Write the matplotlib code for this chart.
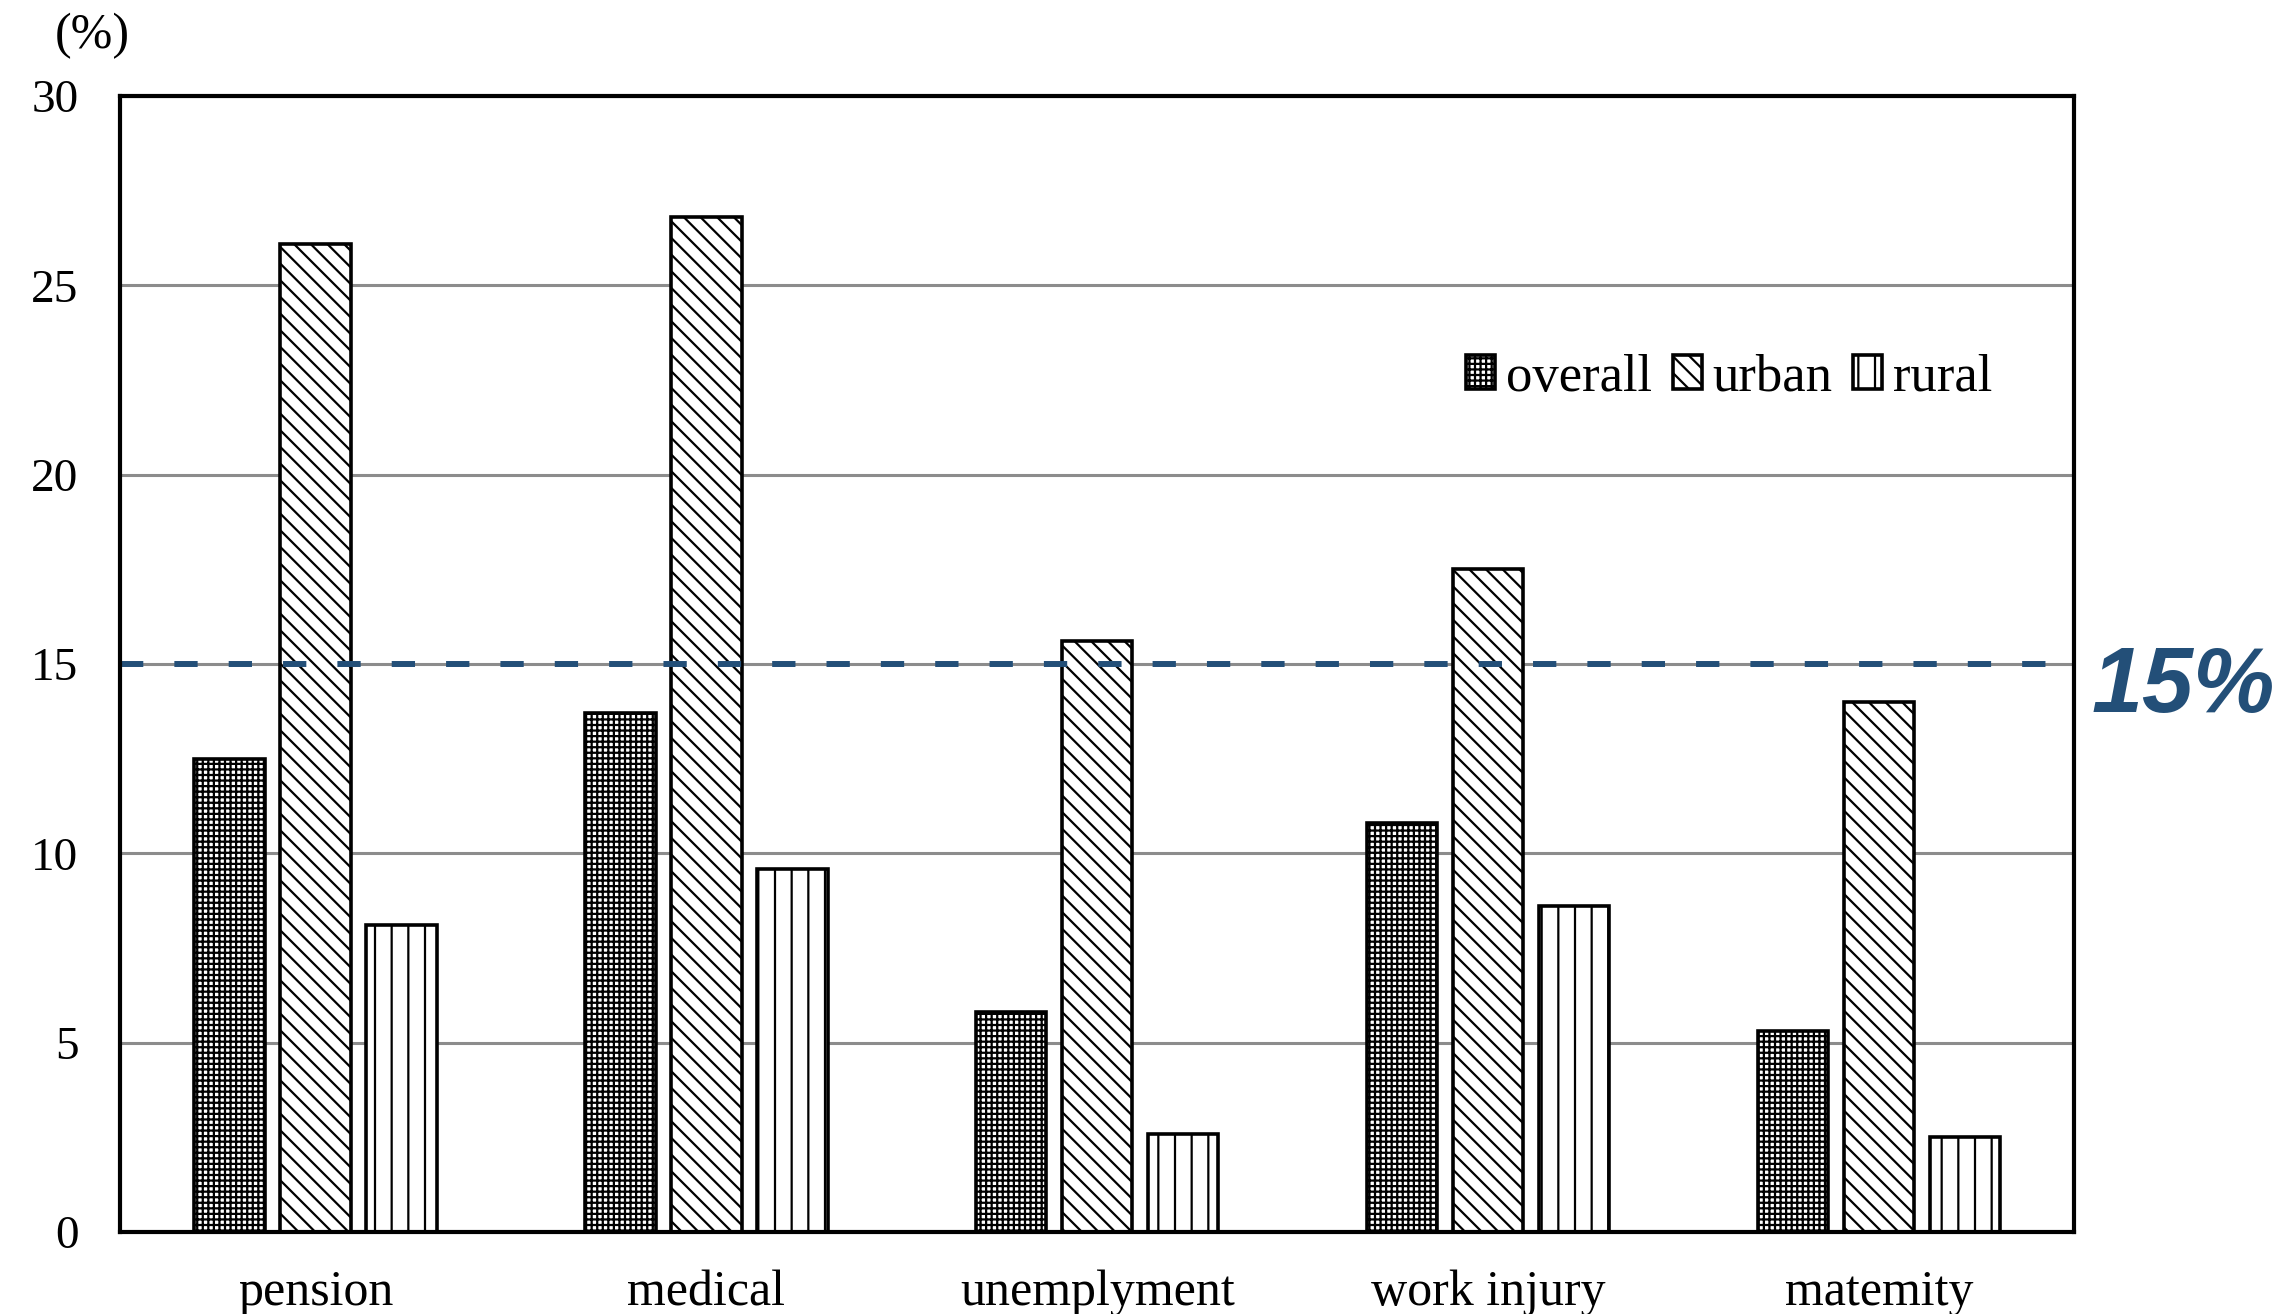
import numpy as np
import matplotlib
matplotlib.use("Agg")
import matplotlib.pyplot as plt

categories = ["pension", "medical", "unemplyment", "work injury", "matemity"]
overall = [12.5, 13.7, 5.8, 10.8, 5.3]
urban = [26.1, 26.8, 15.6, 17.5, 14.0]
rural = [8.1, 9.6, 2.6, 8.6, 2.5]
threshold = 15

plt.rcParams["font.family"] = ["Liberation Serif", "DejaVu Serif"]
plt.rcParams["hatch.linewidth"] = 1.6

fig = plt.figure(figsize=(22.87, 13.14), dpi=100)
ax = fig.add_axes([0.0525, 0.0624, 0.8545, 0.8645])

x = np.arange(len(categories))
w = 0.18
step = 0.22
series = [("overall", overall, "+++"), ("urban", urban, "\\\\"), ("rural", rural, "|")]
for i, (name, vals, hatch) in enumerate(series):
    ax.bar(x + (i - 1) * step, vals, w, facecolor="white", edgecolor="black",
           linewidth=2.6, hatch=hatch, label=name, zorder=3)

ax.axhline(threshold, color="#234f78", lw=4.3, linestyle=(0, (3.9, 5.2)), zorder=4)

ax.set_xlim(-0.5, len(categories) - 0.5)
ax.set_ylim(0, 30)
ax.set_yticks(range(0, 31, 5))
ax.set_xticks(x)
ax.set_xticklabels(categories)
ax.yaxis.grid(True, color="#8c8c8c", lw=2.2, zorder=0)
ax.set_axisbelow(True)
ax.tick_params(axis="y", length=0, pad=30, labelsize=34)
ax.tick_params(axis="x", length=0, pad=27, labelsize=36)
for s in ax.spines.values():
    s.set_linewidth(3)
    s.set_zorder(5)

ax.legend(loc="center right", bbox_to_anchor=(0.958, 0.752), ncol=3, frameon=False,
          fontsize=38, handlelength=0.55, handleheight=0.62, handletextpad=0.2,
          columnspacing=0.4, borderpad=0, borderaxespad=0)

fig.text(0.0405, 0.9726, "(%)", ha="center", va="center", fontsize=36)
fig.text(0.9546, 0.4581, "15%", ha="center", va="baseline", fontsize=66,
         fontweight="bold", fontstyle="italic", color="#234f78",
         family=["Liberation Sans", "DejaVu Sans"])

fig.savefig("out.png", dpi=100)
